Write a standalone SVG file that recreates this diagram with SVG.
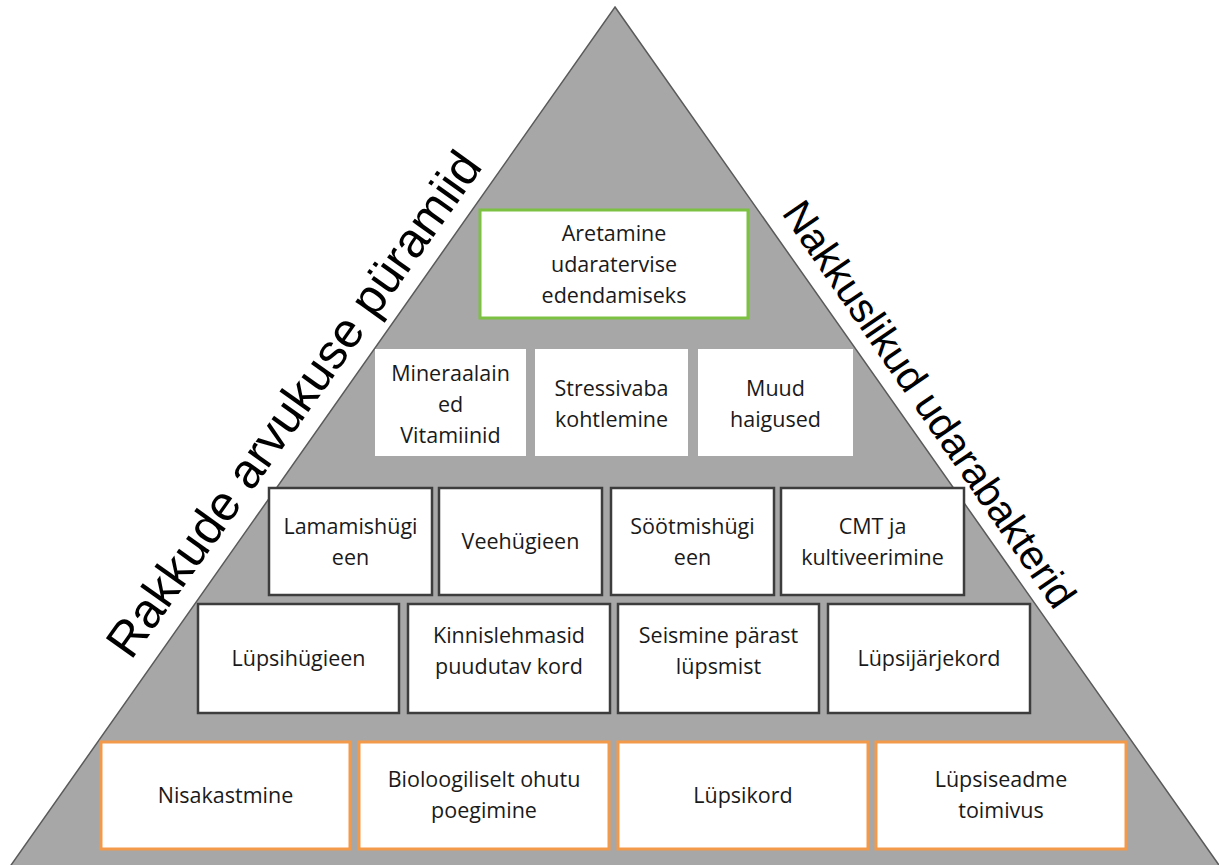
<svg xmlns="http://www.w3.org/2000/svg" width="1219" height="865" viewBox="0 0 1219 865">
<style>
.t{font-family:"Open Sans","Liberation Sans",sans-serif;font-size:21.5px;fill:#1a1a1a;text-anchor:middle}
.side{font-family:"Liberation Sans",Arial,sans-serif;fill:#000}
.g{fill:#fff;stroke:#7cc142;stroke-width:3}
.w{fill:#fff;stroke:none}
.d{fill:#fff;stroke:#3d3d3d;stroke-width:2.5}
.o{fill:#fff;stroke:#f2994a;stroke-width:3}
</style>
<rect width="1219" height="865" fill="#fff"/>
<polygon points="615,7 1221,868 9,868" fill="#a7a7a7" stroke="#5a5a5a" stroke-width="1.5"/>
<text class="side" font-size="49" transform="translate(131,661) rotate(-54.5)">Rakkude arvukuse püramiid</text>
<text class="side" font-size="41" transform="translate(781,213) rotate(55.5)">Nakkuslikud udarabakterid</text>
<g id="n-aretamine"><rect class="g" x="480" y="210" width="268" height="108"/><text class="t" x="614" y="241">Aretamine</text><text class="t" x="614" y="272">udaratervise</text><text class="t" x="614" y="303">edendamiseks</text></g>
<g id="n-mineraal"><rect class="w" x="375" y="349" width="151" height="107"/><text class="t" x="450.5" y="381">Mineraalain</text><text class="t" x="450.5" y="412">ed</text><text class="t" x="450.5" y="443">Vitamiinid</text></g>
<g id="n-stress"><rect class="w" x="535" y="349" width="153" height="107"/><text class="t" x="611.5" y="396">Stressivaba</text><text class="t" x="611.5" y="427">kohtlemine</text></g>
<g id="n-muud"><rect class="w" x="698" y="349" width="155" height="107"/><text class="t" x="775.5" y="396">Muud</text><text class="t" x="775.5" y="427">haigused</text></g>
<g id="n-lamamis"><rect class="d" x="269" y="488" width="163" height="107"/><text class="t" x="350.5" y="534">Lamamishügi</text><text class="t" x="350.5" y="565">een</text></g>
<g id="n-vee"><rect class="d" x="439" y="488" width="163" height="107"/><text class="t" x="520.5" y="549">Veehügieen</text></g>
<g id="n-soot"><rect class="d" x="611" y="488" width="163" height="107"/><text class="t" x="692.5" y="534">Söötmishügi</text><text class="t" x="692.5" y="565">een</text></g>
<g id="n-cmt"><rect class="d" x="781" y="488" width="183" height="107"/><text class="t" x="872.5" y="534">CMT ja</text><text class="t" x="872.5" y="565">kultiveerimine</text></g>
<g id="n-lupsihyg"><rect class="d" x="198" y="604" width="201" height="109"/><text class="t" x="298.5" y="666">Lüpsihügieen</text></g>
<g id="n-kinnis"><rect class="d" x="408" y="604" width="202" height="109"/><text class="t" x="509" y="643">Kinnislehmasid</text><text class="t" x="509" y="674">puudutav kord</text></g>
<g id="n-seismine"><rect class="d" x="618" y="604" width="201" height="109"/><text class="t" x="718.5" y="643">Seismine pärast</text><text class="t" x="718.5" y="674">lüpsmist</text></g>
<g id="n-jarjekord"><rect class="d" x="828" y="604" width="202" height="109"/><text class="t" x="929" y="666">Lüpsijärjekord</text></g>
<g id="n-nisa"><rect class="o" x="101" y="742" width="249" height="107"/><text class="t" x="225.5" y="803">Nisakastmine</text></g>
<g id="n-bio"><rect class="o" x="359" y="742" width="250" height="107"/><text class="t" x="484" y="787">Bioloogiliselt ohutu</text><text class="t" x="484" y="818">poegimine</text></g>
<g id="n-lupsikord"><rect class="o" x="618" y="742" width="250" height="107"/><text class="t" x="743" y="803">Lüpsikord</text></g>
<g id="n-seade"><rect class="o" x="876" y="742" width="250" height="107"/><text class="t" x="1001" y="787">Lüpsiseadme</text><text class="t" x="1001" y="818">toimivus</text></g>
</svg>
